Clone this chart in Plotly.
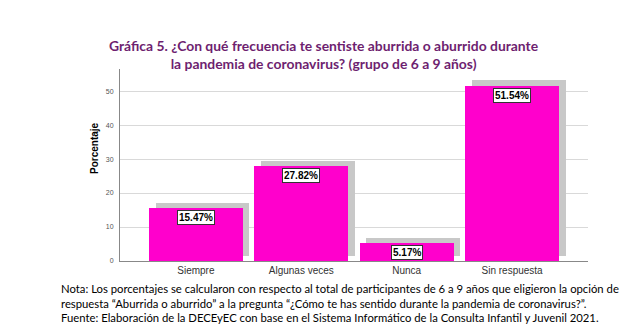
import plotly.graph_objects as go

categories = ["Siempre", "Algunas veces", "Nunca", "Sin respuesta"]
values = [15.47, 27.82, 5.17, 51.54]
value_labels = ["15.47%", "27.82%", "5.17%", "51.54%"]
y_ticks = [0, 10, 20, 30, 40, 50]

BAR = "#FF00CC"
SHADOW = "#C8C8C8"
W = 0.89
DX = 0.062
DY = 1.6

fig = go.Figure()
fig.add_trace(go.Bar(
    x=categories, y=values, base=DY, width=W, offset=-W / 2 + DX,
    marker=dict(color=SHADOW, line=dict(width=0)), hoverinfo="skip", showlegend=False))
fig.add_trace(go.Bar(
    x=categories, y=values, width=W, offset=-W / 2,
    marker=dict(color=BAR, line=dict(width=0)), showlegend=False))

for c, v, t in zip(categories, values, value_labels):
    fig.add_annotation(x=c, y=v, text="<b>" + t + "</b>", showarrow=False, yanchor="top", yshift=-2,
                       font=dict(family="Liberation Sans, Arial", size=10, color="black"),
                       bgcolor="white", bordercolor="#333333", borderwidth=1, borderpad=1)

fig.add_annotation(xref="paper", yref="paper", x=0.434, y=1.0,
                   text="<b>Gráfica 5. ¿Con qué frecuencia te sentiste aburrida o aburrido durante<br>la pandemia de coronavirus? (grupo de 6 a 9 años)</b>",
                   showarrow=False, xanchor="center", yanchor="bottom", yshift=-5,
                   font=dict(family="Lato, Carlito, sans-serif", size=13.9, color="#6E1F70"), align="center")

fig.add_annotation(xref="paper", yref="paper", x=-0.055, y=0.59,
                   text="<b>Porcentaje</b>", textangle=-90, showarrow=False,
                   xanchor="center", yanchor="middle",
                   font=dict(family="Liberation Sans, Arial", size=10, color="black"))

fig.add_annotation(xref="paper", yref="paper", x=-0.131, y=-0.1,
                   text="Nota: Los porcentajes se calcularon con respecto al total de participantes de 6 a 9 años que eligieron la opción de<br>respuesta “Aburrida o aburrido” a la pregunta “¿Cómo te has sentido durante la pandemia de coronavirus?”.<br>Fuente: Elaboración de la DECEyEC con base en el Sistema Informático de la Consulta Infantil y Juvenil 2021.",
                   showarrow=False, xanchor="left", yanchor="top", align="left",
                   font=dict(family="Lato, Carlito, sans-serif", size=11.3, color="black"))

fig.update_layout(
    width=630, height=334,
    margin=dict(l=120, r=42, t=69, b=73),
    paper_bgcolor="white", plot_bgcolor="white",
    bargap=0, barmode="overlay",
    xaxis=dict(range=[-0.72, 3.72], showgrid=False, showline=True, linecolor="#888888", linewidth=1,
               ticks="", tickfont=dict(family="Liberation Sans, Arial", size=10, color="#333333")),
    yaxis=dict(range=[0, 56.5], tickvals=y_ticks, showgrid=True, gridcolor="#D9D9D9", gridwidth=1,
               showline=True, linecolor="#888888", linewidth=1, zeroline=False, ticks="",
               tickfont=dict(family="Liberation Sans, Arial", size=7, color="#555555"), ticklabelstandoff=4),
    font=dict(family="Liberation Sans, Arial"),
)
fig.write_html("out.html")
